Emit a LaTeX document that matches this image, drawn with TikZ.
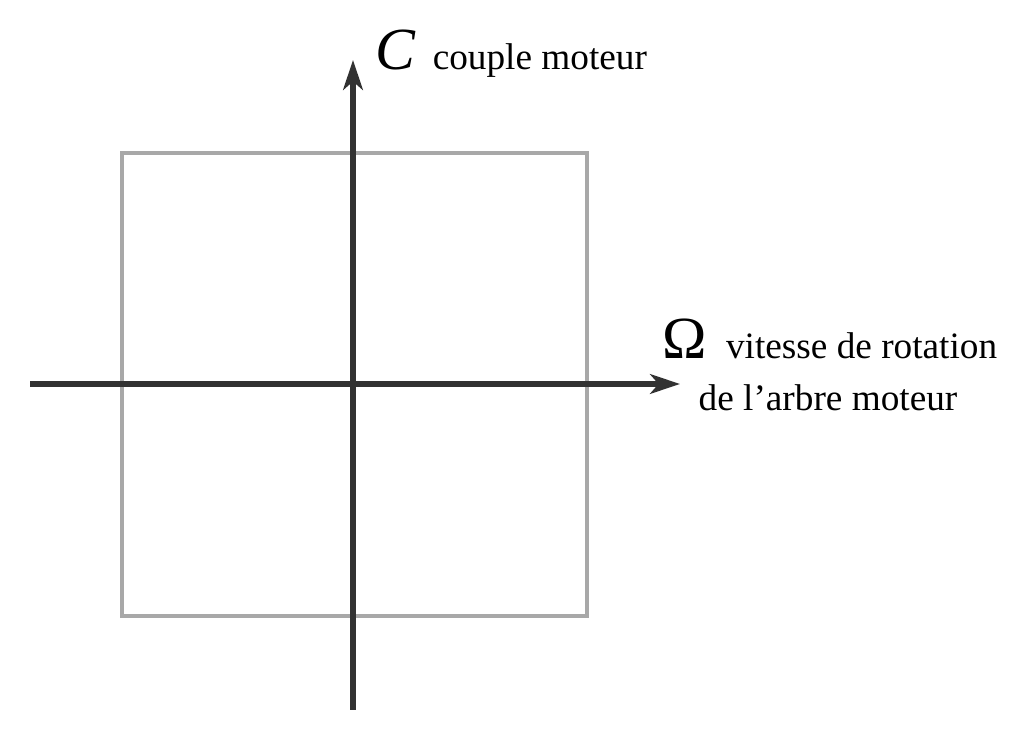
\documentclass[tikz,border=0pt]{standalone}
\usepackage{fontspec}
\setmainfont{Liberation Serif}
\usepackage{tikz}
\usepackage{xcolor}
\usetikzlibrary{arrows.meta, positioning}
\definecolor{axiscolor}{RGB}{50, 50, 50}
\definecolor{boxcolor}{RGB}{168, 168, 168}

\begin{document}
\begin{tikzpicture}[x=0.1mm, y=-0.1mm,
    axis/.style={draw=axiscolor, line width=1.45pt, -{Stealth[length=8.5pt, width=5.6pt, inset=2.4pt]}},
    quad/.style={draw=boxcolor, line width=1.15pt},
    symb/.style={inner sep=0pt, font=\fontsize{17}{17}\selectfont},
    desc/.style={inner sep=0pt, font=\fontsize{10.6}{13}\selectfont, align=left}
]
\useasboundingbox (0,0) rectangle (1012,748);

% --- the four quadrants ---
\draw[quad] (122,153) rectangle (587,616);

% --- axes ---
\coordinate (xmin) at (30,384);
\coordinate (xmax) at (680,384);
\coordinate (ymin) at (353,710);
\coordinate (ymax) at (353,60);
\draw[axis] (xmin) -- (xmax);
\draw[axis] (ymin) -- (ymax);

% --- labels ---
\node[symb, anchor=base west] (C) at (375,70) {\itshape C};
\node[desc, base right=4.5pt of C] (Cname) {couple moteur};

\node[symb, anchor=base west] (Om) at (662,359) {Ω};
\node[desc, base right=5pt of Om] (Omname) {vitesse de rotation};
\node[desc, anchor=base west] (Omname2) at (698,411) {de l’arbre moteur};
\end{tikzpicture}
\end{document}
